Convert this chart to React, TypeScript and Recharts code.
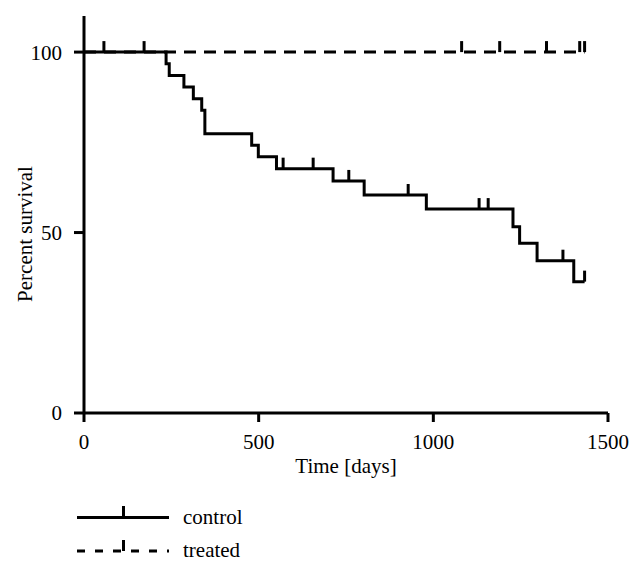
import React from "react";
import { LineChart, Line, XAxis, YAxis } from "recharts";

// Kaplan-Meier curves (days, percent survival, censored flag)
const controlTime = [0, 57, 172, 235, 244, 286, 313, 337, 346, 480, 499, 551, 570, 656, 713, 758, 802, 928, 980, 1131, 1157, 1228, 1247, 1297, 1371, 1402, 1433];
const controlPct = [100, 100, 100, 96.8, 93.5, 90.3, 87.1, 83.9, 77.4, 74.2, 71.0, 67.7, 67.7, 67.7, 64.3, 64.3, 60.4, 60.4, 56.5, 56.5, 56.5, 51.6, 47.0, 42.2, 42.2, 36.4, 36.4];
const controlCensored = [0, 1, 1, 0, 0, 0, 0, 0, 0, 0, 0, 0, 1, 1, 0, 1, 0, 1, 0, 1, 1, 0, 0, 0, 1, 0, 1];

const treatedTime = [0, 1081, 1190, 1324, 1419, 1433];
const treatedPct = [100, 100, 100, 100, 100, 100];
const treatedCensored = [0, 1, 1, 1, 1, 1];

const xTicks = [0, 500, 1000, 1500];
const yTicks = [0, 50, 100];

const FONT = "'Liberation Serif', 'DejaVu Serif', serif";

const toRows = (t: number[], p: number[], c: number[]) =>
  t.map((d, i) => ({ t: d, pct: p[i], censored: c[i] === 1 }));

const controlData = toRows(controlTime, controlPct, controlCensored);
const treatedData = toRows(treatedTime, treatedPct, treatedCensored);

// censored observations are drawn as short vertical ticks
const CensorTick = (props: any) => {
  const { cx, cy, payload, index } = props;
  if (!payload || !payload.censored) return <g key={`n-${index}`} />;
  return (
    <line
      key={`c-${index}`}
      x1={cx}
      x2={cx}
      y1={cy}
      y2={cy - 11}
      stroke="#000"
      strokeWidth={3}
    />
  );
};

const YLabel = () => (
  <text
    x={25}
    y={234}
    transform="rotate(-90, 25, 234)"
    textAnchor="middle"
    dominantBaseline="central"
    fontFamily={FONT}
    fontSize={21}
    fill="#000"
  >
    Percent survival
  </text>
);

const tickStyle = { fontSize: 21, fontFamily: FONT, fill: "#000" };

if (typeof document !== "undefined") document.body.style.margin = "0";

export default function App() {
  return (
    <div style={{ position: "relative", width: 640, height: 570, background: "#fff" }}>
      <LineChart
        width={640}
        height={570}
        margin={{ top: 16, right: 32, left: 0, bottom: 0 }}
      >
        <XAxis
          type="number"
          dataKey="t"
          domain={[0, 1500]}
          ticks={xTicks}
          height={157}
          axisLine={{ stroke: "#000", strokeWidth: 3 }}
          tickLine={{ stroke: "#000", strokeWidth: 3 }}
          tickSize={9}
          tickMargin={12}
          tick={tickStyle}
          label={{
            value: "Time [days]",
            position: "insideTop",
            offset: 45,
            style: { fontSize: 21, fontFamily: FONT, fill: "#000" },
          }}
        />
        <YAxis
          type="number"
          domain={[0, 110]}
          ticks={yTicks}
          width={84}
          allowDataOverflow
          axisLine={{ stroke: "#000", strokeWidth: 3 }}
          tickLine={{ stroke: "#000", strokeWidth: 3 }}
          tickSize={10}
          tickMargin={12}
          tick={tickStyle}
          label={{ content: <YLabel /> }}
        />
        <Line
          data={treatedData}
          dataKey="pct"
          type="stepAfter"
          stroke="#000"
          strokeWidth={3}
          strokeDasharray="12 8"
          dot={CensorTick}
          activeDot={false}
          isAnimationActive={false}
        />
        <Line
          data={controlData}
          dataKey="pct"
          type="stepAfter"
          stroke="#000"
          strokeWidth={3}
          dot={CensorTick}
          activeDot={false}
          isAnimationActive={false}
        />
      </LineChart>
      <svg
        width={640}
        height={80}
        style={{ position: "absolute", left: 0, top: 490 }}
      >
        <line x1={77} x2={169} y1={27.5} y2={27.5} stroke="#000" strokeWidth={3} />
        <line x1={123.5} x2={123.5} y1={27.5} y2={16} stroke="#000" strokeWidth={3} />
        <text x={183} y={34} fontFamily={FONT} fontSize={21} fill="#000">
          control
        </text>
        <line
          x1={77}
          x2={169}
          y1={61}
          y2={61}
          stroke="#000"
          strokeWidth={3}
          strokeDasharray="8 10"
        />
        <line x1={123.5} x2={123.5} y1={61} y2={50} stroke="#000" strokeWidth={3} />
        <text x={183} y={67} fontFamily={FONT} fontSize={21} fill="#000">
          treated
        </text>
      </svg>
    </div>
  );
}
